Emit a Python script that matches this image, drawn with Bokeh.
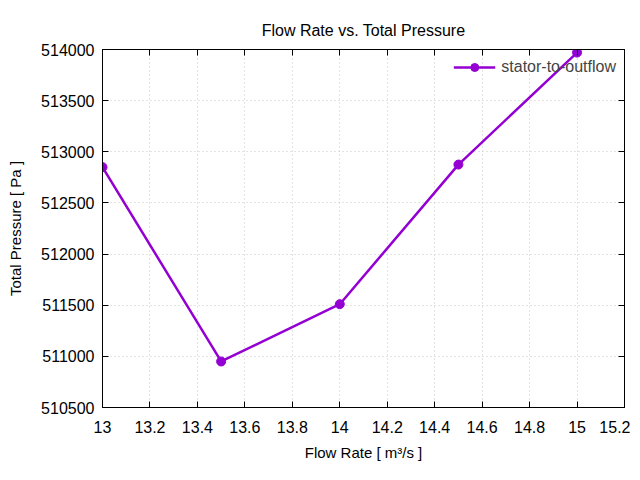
from bokeh.plotting import figure
from bokeh.models import (Range1d, FixedTicker, LinearAxis, Legend, LegendItem,
                          CustomJSTickFormatter, BasicTickFormatter)
from bokeh.embed import file_html
from bokeh.resources import INLINE

flow_rate = [13.0, 13.5, 14.0, 14.5, 15.0]
total_pressure = [512850, 510950, 511510, 512875, 513970]
series_name = "stator-to-outflow"

x_ticks = [13.0, 13.2, 13.4, 13.6, 13.8, 14.0, 14.2, 14.4, 14.6, 14.8, 15.0, 15.2]
x_tick_labels = ["13", "13.2", "13.4", "13.6", "13.8", "14", "14.2", "14.4", "14.6", "14.8", "15", "15.2"]
y_ticks = [510500, 511000, 511500, 512000, 512500, 513000, 513500, 514000]

FONT = "Liberation Sans"
FS = "16px"
FS_LABEL = "15px"
COLOR = "#9400d3"

p = figure(output_backend="svg", toolbar_location=None,
           frame_width=522, frame_height=358,
           x_range=Range1d(13.0, 15.2), y_range=Range1d(510500, 514000),
           title="Flow Rate vs. Total Pressure",
           min_border_left=102, min_border_right=6, min_border_top=49, min_border_bottom=56)
p.title.align = "center"
p.title.text_font = FONT
p.title.text_font_size = FS
p.title.text_font_style = "normal"
p.title.text_color = "black"
p.title.standoff = 21

p.outline_line_color = "black"
p.outline_line_width = 1
p.background_fill_color = "white"
p.border_fill_color = "white"

def style_axis(ax):
    ax.major_tick_in = 6
    ax.major_tick_out = 0
    ax.minor_tick_in = 0
    ax.minor_tick_out = 0
    ax.axis_line_color = "black"
    ax.major_tick_line_color = "black"
    ax.major_label_text_font = FONT
    ax.major_label_text_font_size = FS
    ax.major_label_text_color = "black"
    ax.axis_label_text_font = FONT
    ax.axis_label_text_font_size = FS_LABEL
    ax.axis_label_text_font_style = "normal"
    ax.axis_label_text_color = "black"

xa = p.xaxis[0]
ya = p.yaxis[0]
xa.ticker = FixedTicker(ticks=x_ticks)
xa.major_label_overrides = {t: l for t, l in zip(x_ticks, x_tick_labels)}
ya.ticker = FixedTicker(ticks=y_ticks)
ya.formatter = BasicTickFormatter(use_scientific=False)
xa.axis_label = "Flow Rate [ m³/s ]"
ya.axis_label = "Total Pressure [ Pa ]"
style_axis(xa)
style_axis(ya)
xa.major_label_standoff = 13
ya.major_label_standoff = 8
xa.axis_label_standoff = 8
ya.axis_label_standoff = 14

blank = CustomJSTickFormatter(code="return '';")
top = LinearAxis(ticker=FixedTicker(ticks=x_ticks), formatter=blank)
right = LinearAxis(ticker=FixedTicker(ticks=y_ticks), formatter=blank)
style_axis(top)
style_axis(right)
top.major_label_standoff = 0
right.major_label_standoff = 0
p.add_layout(top, "above")
p.add_layout(right, "right")

p.xgrid.ticker = FixedTicker(ticks=x_ticks)
p.ygrid.ticker = FixedTicker(ticks=y_ticks)
for g in (p.xgrid[0], p.ygrid[0]):
    g.grid_line_color = "#c8c8c8"
    g.grid_line_dash = "1 3"
    g.grid_line_width = 1

ln = p.line(flow_rate, total_pressure, line_color=COLOR, line_width=2.5)
sc = p.scatter(flow_rate, total_pressure, marker="circle", size=9,
               fill_color=COLOR, line_color=COLOR)

legend = Legend(items=[LegendItem(label=series_name, renderers=[ln, sc])],
                location="top_right",
                label_text_font=FONT, label_text_font_size=FS,
                background_fill_alpha=0, border_line_color=None,
                glyph_width=42, margin=8, padding=4, label_standoff=6)
p.add_layout(legend, "center")

open("out.html", "w").write(file_html(p, INLINE))
